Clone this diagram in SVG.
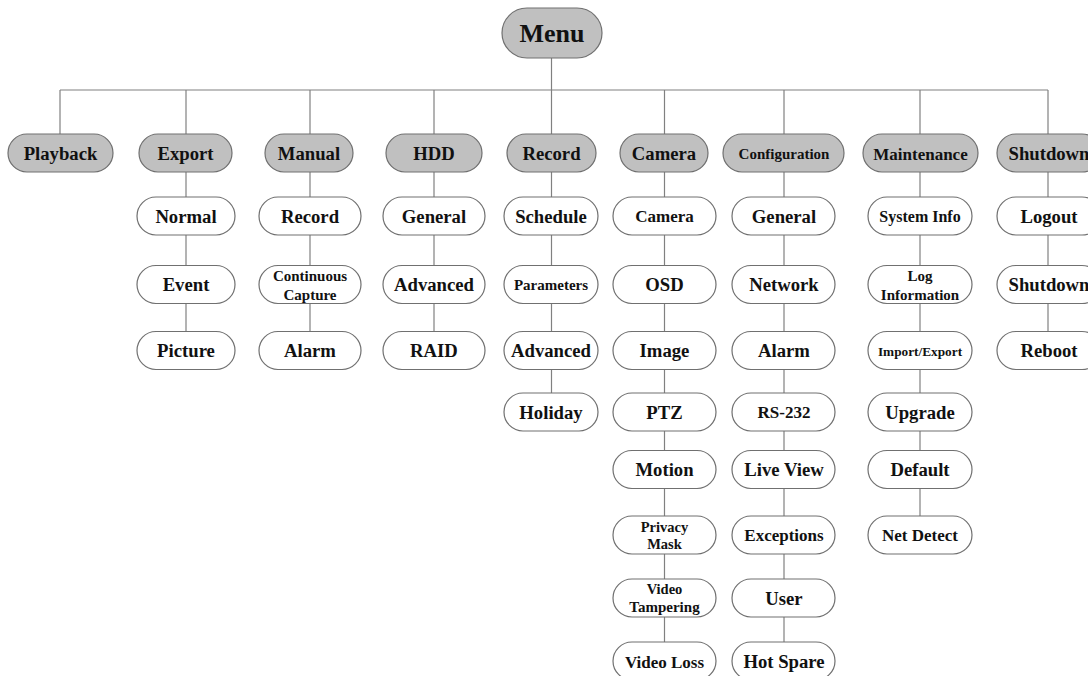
<svg xmlns="http://www.w3.org/2000/svg" width="1088" height="676" viewBox="0 0 1088 676">
  <style>
    .bg { fill: #ffffff; }
    .conn line { stroke: #808080; stroke-width: 1.2; fill: none; }
    .hdr rect { fill: #c0c0c0; stroke: #707070; stroke-width: 1.2; }
    .sub rect { fill: #ffffff; stroke: #707070; stroke-width: 1.2; }
    text { font-family: "Liberation Serif", "Times New Roman", serif; font-weight: bold; font-size: 18.7px; text-anchor: middle; fill: #111111; }
    .menu text { font-size: 26px; }
    .s17 { font-size: 17px; }
    .s16 { font-size: 16px; }
    .s15 { font-size: 15px; }
    .s14 { font-size: 14.5px; }
    .s13 { font-size: 13.3px; }
  </style>
  <rect class="bg" x="0" y="0" width="1088" height="676"/>

  <!-- connectors: trunk, bus and column spines (drawn beneath the nodes) -->
  <g id="connectors" class="conn">
    <line x1="551.5" y1="58" x2="551.5" y2="90"/>
    <line x1="60" y1="90" x2="1048" y2="90"/>
    <line x1="60" y1="90" x2="60" y2="134"/>
    <line x1="186" y1="90" x2="186" y2="332"/>
    <line x1="310" y1="90" x2="310" y2="332"/>
    <line x1="434" y1="90" x2="434" y2="332"/>
    <line x1="551.5" y1="90" x2="551.5" y2="393"/>
    <line x1="664.5" y1="90" x2="664.5" y2="642"/>
    <line x1="784" y1="90" x2="784" y2="642"/>
    <line x1="920" y1="90" x2="920" y2="516"/>
    <line x1="1048" y1="90" x2="1048" y2="332"/>
  </g>

  <!-- root -->
  <g id="menu" class="hdr menu">
    <rect x="502" y="8" width="100" height="50" rx="25"/>
    <text x="552" y="42">Menu</text>
  </g>

  <!-- first level -->
  <g id="playback" class="hdr"><rect x="8" y="134" width="105" height="38" rx="19"/><text x="60.5" y="160">Playback</text></g>
  <g id="export" class="hdr"><rect x="139" y="134" width="93" height="38" rx="19"/><text x="185.5" y="160">Export</text></g>
  <g id="manual" class="hdr"><rect x="265" y="134" width="88" height="38" rx="19"/><text x="309" y="160">Manual</text></g>
  <g id="hdd" class="hdr"><rect x="386" y="134" width="96" height="38" rx="19"/><text x="434" y="160">HDD</text></g>
  <g id="record" class="hdr"><rect x="507" y="134" width="89" height="38" rx="19"/><text x="551.5" y="160">Record</text></g>
  <g id="camera" class="hdr"><rect x="620" y="134" width="88" height="38" rx="19"/><text x="664" y="160">Camera</text></g>
  <g id="configuration" class="hdr"><rect x="723" y="134" width="121" height="38" rx="19"/><text class="s15" x="784" y="159">Configuration</text></g>
  <g id="maintenance" class="hdr"><rect x="863" y="134" width="115" height="38" rx="19"/><text class="s17" x="920.5" y="159.5">Maintenance</text></g>
  <g id="shutdown" class="hdr"><rect x="997" y="134" width="104" height="38" rx="19"/><text x="1049" y="160">Shutdown</text></g>

  <!-- Export -->
  <g id="export-normal" class="sub"><rect x="137" y="197" width="98" height="38" rx="19"/><text x="186" y="222.5">Normal</text></g>
  <g id="export-event" class="sub"><rect x="137" y="265.5" width="98" height="38" rx="19"/><text x="186" y="291">Event</text></g>
  <g id="export-picture" class="sub"><rect x="137" y="331.5" width="98" height="38" rx="19"/><text x="186" y="357">Picture</text></g>

  <!-- Manual -->
  <g id="manual-record" class="sub"><rect x="259" y="197" width="102" height="38" rx="19"/><text x="310" y="222.5">Record</text></g>
  <g id="manual-capture" class="sub"><rect x="259" y="265.5" width="102" height="38" rx="19"/><text class="s15" x="310" y="281">Continuous</text><text class="s15" x="310" y="299.5">Capture</text></g>
  <g id="manual-alarm" class="sub"><rect x="259" y="331.5" width="102" height="38" rx="19"/><text x="310" y="357">Alarm</text></g>

  <!-- HDD -->
  <g id="hdd-general" class="sub"><rect x="383" y="197" width="102" height="38" rx="19"/><text x="434" y="222.5">General</text></g>
  <g id="hdd-advanced" class="sub"><rect x="383" y="265.5" width="102" height="38" rx="19"/><text x="434" y="291">Advanced</text></g>
  <g id="hdd-raid" class="sub"><rect x="383" y="331.5" width="102" height="38" rx="19"/><text x="434" y="357">RAID</text></g>

  <!-- Record -->
  <g id="record-schedule" class="sub"><rect x="504" y="197" width="94" height="38" rx="19"/><text x="551" y="222.5">Schedule</text></g>
  <g id="record-parameters" class="sub"><rect x="504" y="265.5" width="94" height="38" rx="19"/><text class="s15" x="551" y="290">Parameters</text></g>
  <g id="record-advanced" class="sub"><rect x="504" y="331.5" width="94" height="38" rx="19"/><text x="551" y="357">Advanced</text></g>
  <g id="record-holiday" class="sub"><rect x="504" y="393" width="94" height="38" rx="19"/><text x="551" y="418.5">Holiday</text></g>

  <!-- Camera -->
  <g id="camera-camera" class="sub"><rect x="613" y="197" width="103" height="38" rx="19"/><text class="s17" x="664.5" y="222">Camera</text></g>
  <g id="camera-osd" class="sub"><rect x="613" y="265.5" width="103" height="38" rx="19"/><text x="664.5" y="291">OSD</text></g>
  <g id="camera-image" class="sub"><rect x="613" y="331.5" width="103" height="38" rx="19"/><text x="664.5" y="357">Image</text></g>
  <g id="camera-ptz" class="sub"><rect x="613" y="393" width="103" height="38" rx="19"/><text x="664.5" y="418.5">PTZ</text></g>
  <g id="camera-motion" class="sub"><rect x="613" y="450.5" width="103" height="38" rx="19"/><text x="664.5" y="476">Motion</text></g>
  <g id="camera-privacy" class="sub"><rect x="613" y="516" width="103" height="38" rx="19"/><text class="s14" x="664.5" y="531.5">Privacy</text><text class="s14" x="664.5" y="549">Mask</text></g>
  <g id="camera-tampering" class="sub"><rect x="613" y="579" width="103" height="38" rx="19"/><text class="s14" x="664.5" y="593.5">Video</text><text class="s15" x="664.5" y="612">Tampering</text></g>
  <g id="camera-videoloss" class="sub"><rect x="613" y="642" width="103" height="38" rx="19"/><text class="s17" x="664.5" y="667.5">Video Loss</text></g>

  <!-- Configuration -->
  <g id="config-general" class="sub"><rect x="732" y="197" width="103" height="38" rx="19"/><text x="784" y="222.5">General</text></g>
  <g id="config-network" class="sub"><rect x="732" y="265.5" width="103" height="38" rx="19"/><text x="784" y="291">Network</text></g>
  <g id="config-alarm" class="sub"><rect x="732" y="331.5" width="103" height="38" rx="19"/><text x="784" y="357">Alarm</text></g>
  <g id="config-rs232" class="sub"><rect x="732" y="393" width="103" height="38" rx="19"/><text class="s17" x="784" y="418">RS-232</text></g>
  <g id="config-liveview" class="sub"><rect x="732" y="450.5" width="103" height="38" rx="19"/><text x="784" y="476">Live View</text></g>
  <g id="config-exceptions" class="sub"><rect x="732" y="516" width="103" height="38" rx="19"/><text class="s17" x="784" y="541">Exceptions</text></g>
  <g id="config-user" class="sub"><rect x="732" y="579" width="103" height="38" rx="19"/><text x="784" y="604.5">User</text></g>
  <g id="config-hotspare" class="sub"><rect x="732" y="642" width="103" height="38" rx="19"/><text x="784" y="667.5">Hot Spare</text></g>

  <!-- Maintenance -->
  <g id="maint-sysinfo" class="sub"><rect x="868" y="197" width="104" height="38" rx="19"/><text class="s16" x="920" y="222">System Info</text></g>
  <g id="maint-log" class="sub"><rect x="868" y="265.5" width="104" height="38" rx="19"/><text class="s15" x="920" y="281">Log</text><text class="s15" x="920" y="299.5">Information</text></g>
  <g id="maint-importexport" class="sub"><rect x="868" y="331.5" width="104" height="38" rx="19"/><text class="s13" x="920" y="355.5">Import/Export</text></g>
  <g id="maint-upgrade" class="sub"><rect x="868" y="393" width="104" height="38" rx="19"/><text x="920" y="418.5">Upgrade</text></g>
  <g id="maint-default" class="sub"><rect x="868" y="450.5" width="104" height="38" rx="19"/><text x="920" y="476">Default</text></g>
  <g id="maint-netdetect" class="sub"><rect x="868" y="516" width="104" height="38" rx="19"/><text class="s17" x="920" y="541">Net Detect</text></g>

  <!-- Shutdown -->
  <g id="shutdown-logout" class="sub"><rect x="997" y="197" width="104" height="38" rx="19"/><text x="1049" y="222.5">Logout</text></g>
  <g id="shutdown-shutdown" class="sub"><rect x="997" y="265.5" width="104" height="38" rx="19"/><text x="1049" y="291">Shutdown</text></g>
  <g id="shutdown-reboot" class="sub"><rect x="997" y="331.5" width="104" height="38" rx="19"/><text x="1049" y="357">Reboot</text></g>
</svg>
